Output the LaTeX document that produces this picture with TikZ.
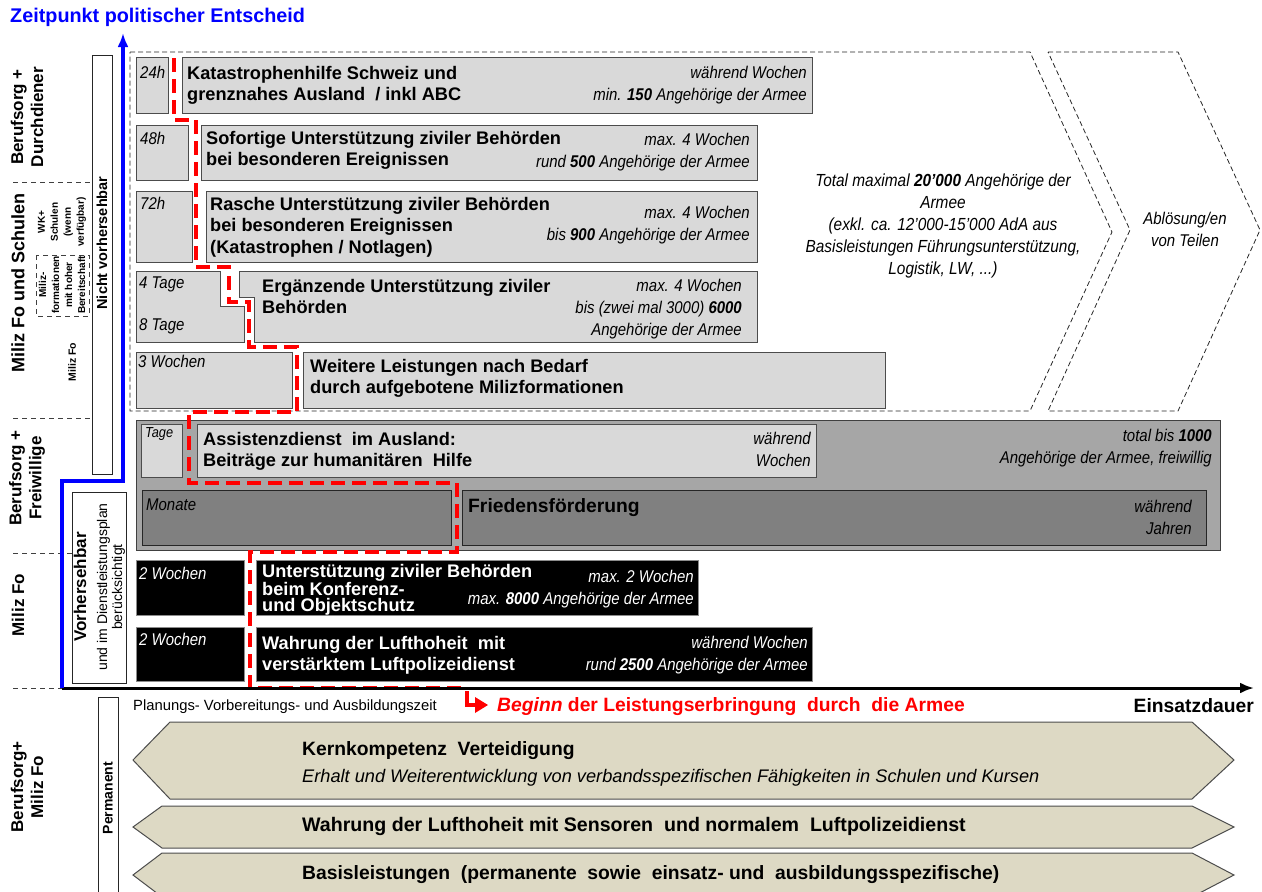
\documentclass[tikz,border=0pt]{standalone}
\usepackage{fontspec}
\setmainfont{Liberation Sans}
\newfontfamily\narrowfont[FakeStretch=0.88]{Liberation Sans}
\usetikzlibrary{arrows.meta}
\definecolor{sand}{HTML}{DDD9C4}

\tikzset{
  lbox/.style={draw=black!70, fill=black!15, line width=1pt},
  gbox/.style={draw=black!75, fill=black!35, line width=1pt},
  dbox/.style={draw=black!85, fill=black!50, line width=1pt},
  kbox/.style={draw=black!45, fill=black, line width=1pt},
  wbox/.style={draw=black!85, fill=white, line width=1pt},
  pbox/.style={draw=black!70, fill=sand, line width=1pt},
  chev/.style={draw=black!85, dash pattern=on 5pt off 3pt, line width=0.8pt},
  sep/.style={draw=black!75, dash pattern=on 5pt off 4pt, line width=0.8pt},
  route/.style={red, line width=4pt, dash pattern=on 14pt off 7pt},
  btxt/.style={font=\bfseries\fontsize{18.2}{21.5}\selectfont, anchor=north west, inner sep=0, align=left},
  note/.style={font=\narrowfont\itshape\fontsize{17}{22}\selectfont, anchor=north east, inner sep=0, align=right},
  tag/.style={font=\narrowfont\itshape\fontsize{17}{20}\selectfont, anchor=north west, inner sep=0},
  big/.style={font=\bfseries\fontsize{19.3}{22}\selectfont, anchor=west, inner sep=0},
  side/.style={rotate=90, font=\bfseries\fontsize{17}{20}\selectfont, align=center, inner sep=0},
  tiny/.style={rotate=90, font=\bfseries\fontsize{10}{13}\selectfont, align=center, inner sep=0},
}

\begin{document}
\begin{tikzpicture}[x=1pt,y=-1pt]
\useasboundingbox (0,0) rectangle (1262,892);

%CHEVRONS
\draw[chev] (130,52) -- (1030,52) -- (1112,232) -- (1030,411) -- (130,411) -- cycle;
\draw[chev] (1048,52) -- (1178,52) -- (1260,230) -- (1178,411) -- (1048,411) -- (1130,230) -- cycle;

%ROWS not foreseeable
\draw[lbox] (136,57) rectangle (168,113);
\draw[lbox] (182,57) rectangle (812,113);
\draw[lbox] (136,125) rectangle (188,180);
\draw[lbox] (201,125) rectangle (757,180);
\draw[lbox] (136,191) rectangle (192,262);
\draw[lbox] (206,191) rectangle (757,262);
\draw[lbox] (136,271) -- (220,271) -- (220,306) -- (244,306) -- (244,342) -- (136,342) -- cycle;
\draw[lbox] (239,271) -- (757,271) -- (757,342) -- (254,342) -- (254,297) -- (239,297) -- cycle;
\draw[lbox] (136,352) rectangle (292,408);
\draw[lbox] (303,352) rectangle (885,408);

%VOLUNTEERS
\draw[gbox] (136,420) rectangle (1220,550);
\draw[lbox] (141,424) rectangle (182,477);
\draw[lbox] (197,424) rectangle (816,477);
\draw[dbox] (142,490) rectangle (451,545);
\draw[dbox] (462,490) rectangle (1206,545);

%FORESEEABLE
\draw[kbox] (136,560) rectangle (244,615);
\draw[kbox] (256,560) rectangle (698,615);
\draw[kbox] (136,627) rectangle (244,681);
\draw[kbox] (256,627) rectangle (812,681);

%PERMANENT
\draw[pbox] (170,722) -- (1192,722) -- (1234,760) -- (1192,799) -- (170,799) -- (133,760) -- cycle;
\draw[pbox] (162,806) -- (1192,806) -- (1234,827) -- (1192,848) -- (162,848) -- (133,827) -- cycle;
\draw[pbox] (162,853) -- (1192,853) -- (1234,875) -- (1192,897) -- (162,897) -- (133,875) -- cycle;

%LEFT
\draw[wbox] (92,55) rectangle (112,474);
\draw[wbox] (72,492) rectangle (126,683);
\draw[wbox] (98,697) rectangle (118,900);
\draw[sep] (13,182) -- (91,182);
\draw[sep] (36,255) rectangle (89,316);
\draw[sep] (13,418) -- (90,418);
\draw[sep] (13,553) -- (72,553);
\draw[sep] (13,688) -- (62,688);

% Route
\draw[route] (174,58) -- (174,120) -- (196,120) -- (196,267) -- (229,267) -- (229,302) -- (249,302) -- (249,347) -- (297,347) -- (297,412) -- (189,412) -- (189,483) -- (457,483) -- (457,552) -- (250,552) -- (250,688) -- (467,688);
\draw[red, line width=3.5pt] (467,691) -- (467,705) -- (477,705);
\fill[red] (475,697) -- (488,705) -- (475,713) -- cycle;

% Axes
\coordinate (o) at (62,688);
\coordinate (step) at (62,481);
\coordinate (knee) at (123,481);
\coordinate (top) at (123,33);
\coordinate (far) at (1254,688);
\draw[line width=3pt, -{Latex[length=14pt,width=11pt]}] (o) -- (far);
\draw[blue, line width=3.5pt, -{Latex[length=14pt,width=11pt]}] (o) -- (step) -- (knee) -- (top);

%TEXT
\node[big, blue, font=\bfseries\fontsize{19.8}{22}\selectfont] (zeit) at (10,17) {Zeitpunkt politischer Entscheid};

\node[tag] (h24) at (140,66) {24h};
\node[btxt] (katT) at (187,66) {Katastrophenhilfe Schweiz und\\grenznahes Ausland~ / inkl ABC};
\node[note] (katN) at (807,66) {während Wochen\\min. \textbf{150} Angehörige der Armee};
\node[tag] (h48) at (140,132) {48h};
\node[btxt] (sofT) at (206,131) {Sofortige Unterstützung ziviler Behörden\\bei besonderen Ereignissen};
\node[note] (sofN) at (750,133) {max. 4 Wochen\\rund \textbf{500} Angehörige der Armee};
\node[tag] (h72) at (140,197) {72h};
\node[btxt] (rasT) at (210,197) {Rasche Unterstützung ziviler Behörden\\bei besonderen Ereignissen\\(Katastrophen / Notlagen)};
\node[note] (rasN) at (750,206) {max. 4 Wochen\\bis \textbf{900} Angehörige der Armee};
\node[tag] (d4) at (139,277) {4 Tage};
\node[tag] (d8) at (139,318) {8 Tage};
\node[btxt] (ergT) at (262,279) {Ergänzende Unterstützung ziviler\\Behörden};
\node[note] (ergN) at (742,279) {max. 4 Wochen\\bis (zwei mal 3000) \textbf{6000}\\Angehörige der Armee};
\node[tag] (w3) at (138,355) {3 Wochen};
\node[btxt] (weiT) at (310,359) {Weitere Leistungen nach Bedarf\\durch aufgebotene Milizformationen};

\node[align=center, font=\narrowfont\itshape\fontsize{17.5}{22}\selectfont] (total) at (943,226) {Total maximal \textbf{20’000} Angehörige der\\Armee\\(exkl. ca. 12’000-15’000 AdA aus\\Basisleistungen Führungsunterstützung,\\Logistik, LW, ...)};
\node[align=center, font=\narrowfont\itshape\fontsize{17}{22}\selectfont] (abl) at (1185,229) {Ablösung/en\\von Teilen};

\node[tag, font=\narrowfont\itshape\fontsize{14.5}{16}\selectfont] (tage) at (145,427) {Tage};
\node[btxt] (assT) at (203,432) {Assistenzdienst~ im Ausland:\\Beiträge zur humanitären~ Hilfe};
\node[note] (assN) at (811,432) {während\\Wochen};
\node[note] (frwN) at (1212,429) {total bis \textbf{1000}\\Angehörige der Armee, freiwillig};
\node[tag] (mon) at (146,499) {Monate};
\node[big] (friT) at (468,508) {Friedensförderung};
\node[note] (friN) at (1192,500) {während\\Jahren};

\node[tag, white] (wka) at (139,567) {2 Wochen};
\node[btxt, white, font=\bfseries\fontsize{18.2}{16.5}\selectfont] (konT) at (262,564) {Unterstützung ziviler Behörden\\beim Konferenz-\\und Objektschutz};
\node[note, white] (konN) at (694,570) {max. 2 Wochen\\max. \textbf{8000} Angehörige der Armee};
\node[tag, white] (wkb) at (139,633) {2 Wochen};
\node[btxt, white] (lufT) at (262,636) {Wahrung der Lufthoheit~ mit\\verstärktem Luftpolizeidienst};
\node[note, white] (lufN) at (808,636) {während Wochen\\rund \textbf{2500} Angehörige der Armee};

\node[anchor=west, font=\fontsize{14.8}{17}\selectfont, inner sep=0] (plan) at (133,707) {Planungs- Vorbereitungs- und Ausbildungszeit};
\node[big, red] (beg) at (497,707) {\textit{Beginn} der Leistungserbringung~ durch~ die Armee};
\node[big, anchor=east] (dauer) at (1254,706) {Einsatzdauer};

\node[big, font=\bfseries\fontsize{19.3}{22}\selectfont] (kern) at (302,751) {Kernkompetenz~ Verteidigung};
\node[anchor=west, font=\itshape\fontsize{18.2}{20}\selectfont, inner sep=0] (erh) at (302,778) {Erhalt und Weiterentwicklung von verbandsspezifischen Fähigkeiten in Schulen und Kursen};
\node[big, font=\bfseries\fontsize{19.6}{22}\selectfont] (luft) at (302,826) {Wahrung der Lufthoheit mit Sensoren~ und normalem~ Luftpolizeidienst};
\node[big, font=\bfseries\fontsize{19.3}{22}\selectfont] (basis) at (302,875) {Basisleistungen~ (permanente~ sowie~ einsatz- und~ ausbildungsspezifische)};

% Side labels
\node[side] (bd) at (27,117) {Berufsorg +\\Durchdiener};
\node[side, font=\bfseries\fontsize{18}{20}\selectfont] (ms) at (18,283) {Miliz Fo und Schulen};
\node[tiny] (wk) at (62,222) {WK+\\Schulen\\(wenn\\verfügbar)};
\node[tiny] (mf) at (62,285) {Miliz-\\formationen\\mit hoher\\Bereitschaft};
\node[tiny, font=\bfseries\fontsize{10.5}{13}\selectfont] (mfo) at (72,362) {Miliz Fo};
\node[side, font=\bfseries\fontsize{14.5}{17}\selectfont] (nv) at (102,243) {Nicht vorhersehbar};
\node[side] (bf) at (27,478) {Berufsorg +\\Freiwillige};
\node[side] (mi) at (18,605) {Miliz Fo};
\node[side, font=\fontsize{14}{15}\selectfont] (vh) at (99.5,587) {{\bfseries\fontsize{17}{21}\selectfont Vorhersehbar}\\[6pt]und im Dienstleistungsplan\\berücksichtigt};
\node[side] (bm) at (27,787) {Berufsorg+\\Miliz Fo};
\node[side, font=\bfseries\fontsize{14}{17}\selectfont] (pm) at (108,798) {Permanent};
\end{tikzpicture}
\end{document}
